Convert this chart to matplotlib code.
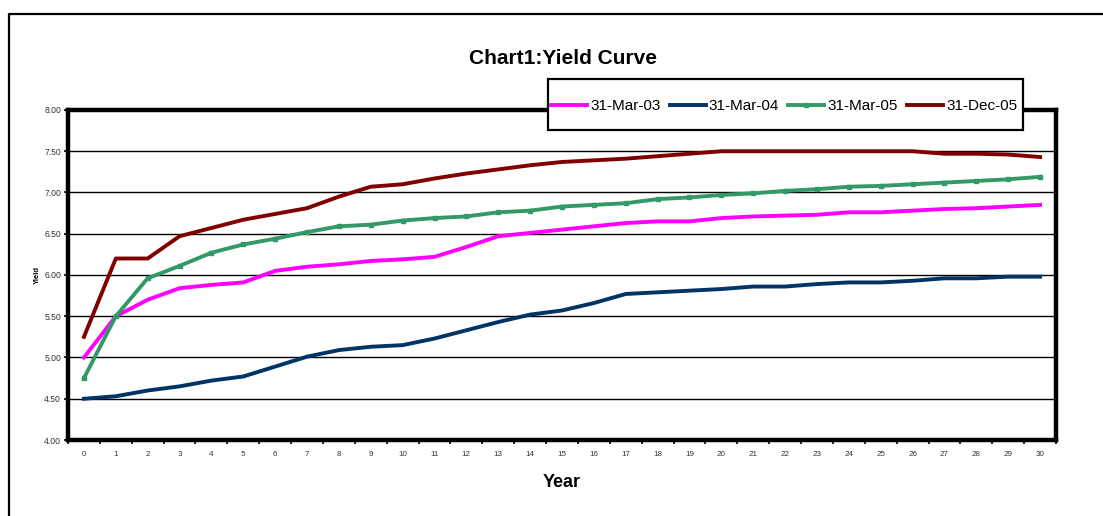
import matplotlib
matplotlib.use("Agg")
import matplotlib.pyplot as plt
from matplotlib.lines import Line2D
from matplotlib.patches import Rectangle
from matplotlib.ticker import MultipleLocator, FixedLocator

plt.rcParams['font.family'] = ['Liberation Sans', 'DejaVu Sans']

# Yield curves by maturity (years)
years = list(range(0, 31))
series_labels = ["31-Mar-03", "31-Mar-04", "31-Mar-05", "31-Dec-05"]
mar03 = [5.00, 5.50, 5.70, 5.84, 5.88, 5.91, 6.05, 6.10, 6.13, 6.17, 6.19,
         6.22, 6.34, 6.47, 6.51, 6.55, 6.59, 6.63, 6.65, 6.65, 6.69,
         6.71, 6.72, 6.73, 6.76, 6.76, 6.78, 6.80, 6.81, 6.83, 6.85]
mar04 = [4.50, 4.53, 4.60, 4.65, 4.72, 4.77, 4.89, 5.01, 5.09, 5.13, 5.15,
         5.23, 5.33, 5.43, 5.52, 5.57, 5.66, 5.77, 5.79, 5.81, 5.83,
         5.86, 5.86, 5.89, 5.91, 5.91, 5.93, 5.96, 5.96, 5.98, 5.98]
mar05 = [4.75, 5.50, 5.96, 6.11, 6.27, 6.37, 6.44, 6.52, 6.59, 6.61, 6.66,
         6.69, 6.71, 6.76, 6.78, 6.83, 6.85, 6.87, 6.92, 6.94, 6.97,
         6.99, 7.02, 7.04, 7.07, 7.08, 7.10, 7.12, 7.14, 7.16, 7.19]
dec05 = [5.25, 6.20, 6.20, 6.47, 6.57, 6.67, 6.74, 6.81, 6.95, 7.07, 7.10,
         7.17, 7.23, 7.28, 7.33, 7.37, 7.39, 7.41, 7.44, 7.47, 7.50,
         7.50, 7.50, 7.50, 7.50, 7.50, 7.50, 7.47, 7.47, 7.46, 7.43]

W, H = 1103, 516
fig = plt.figure(figsize=(W / 100, H / 100), dpi=100)
fig.patch.set_facecolor("white")

L, R, B, T = 68, 1056, 440, 110
ax = fig.add_axes([L / W, 1 - B / H, (R - L) / W, (B - T) / H])

lw = 2.8
ax.plot(years, mar03, color="#FF00FF", lw=lw, label=series_labels[0], zorder=3)
ax.plot(years, mar04, color="#003366", lw=lw, label=series_labels[1], zorder=3)
ax.plot(years, mar05, color="#339966", lw=lw, marker="s", markersize=3.2,
        label=series_labels[2], zorder=3)
ax.plot(years, dec05, color="#800000", lw=lw, label=series_labels[3], zorder=3)

ax.set_xlim(-0.5, 30.5)
ax.set_ylim(4.0, 8.0)
ax.yaxis.set_major_locator(MultipleLocator(0.5))
ax.yaxis.set_major_formatter(matplotlib.ticker.FormatStrFormatter("%.2f"))
ax.set_xticks(years)
ax.set_xticklabels([str(y) for y in years])
ax.xaxis.set_minor_locator(FixedLocator([y + 0.5 for y in range(-1, 31)]))

ax.tick_params(axis="x", which="major", length=0, pad=8, labelsize=5.8,
               labelcolor="#333333")
ax.tick_params(axis="x", which="minor", length=3, width=1.2, direction="out",
               color="black")
ax.tick_params(axis="y", which="major", length=3, width=1.2, pad=2,
               labelsize=6.2, labelcolor="#333333")

ax.grid(axis="y", color="black", lw=1.0, zorder=1)
ax.set_axisbelow(True)
for sp in ax.spines.values():
    sp.set_linewidth(3.2)
    sp.set_color("black")

ax.set_ylabel("Yield", fontsize=5.5, fontweight="bold")
ax.yaxis.set_label_coords(-0.027, 0.5)
ax.set_xlabel("Year", fontsize=13, fontweight="bold")
ax.xaxis.set_label_coords(0.5, -0.102)

fig.text(563 / W, 1 - 64 / H, "Chart1:Yield Curve", fontsize=15,
         fontweight="bold", ha="center", va="baseline")

# Outer chart border (top and left edges)
fig.add_artist(Line2D([9 / W, 9 / W, 1.0], [0.0, 1 - 14 / H, 1 - 14 / H],
                      transform=fig.transFigure, color="black", lw=1.6))

# Legend box
fig.add_artist(Rectangle((548 / W, 1 - 130 / H), (1023 - 548) / W, 51 / H,
                         transform=fig.transFigure, facecolor="white",
                         edgecolor="black", lw=1.6, zorder=4))
handles, labels = ax.get_legend_handles_labels()
leg = fig.legend(handles, labels, loc="center left",
                 bbox_to_anchor=(551 / W, 1 - 106 / H), ncol=4,
                 frameon=False, fontsize=11, handlelength=2.36,
                 handletextpad=0.2, columnspacing=0.6, borderpad=0,
                 borderaxespad=0, numpoints=1)
leg.set_zorder(5)

fig.savefig("out.png", dpi=100)
